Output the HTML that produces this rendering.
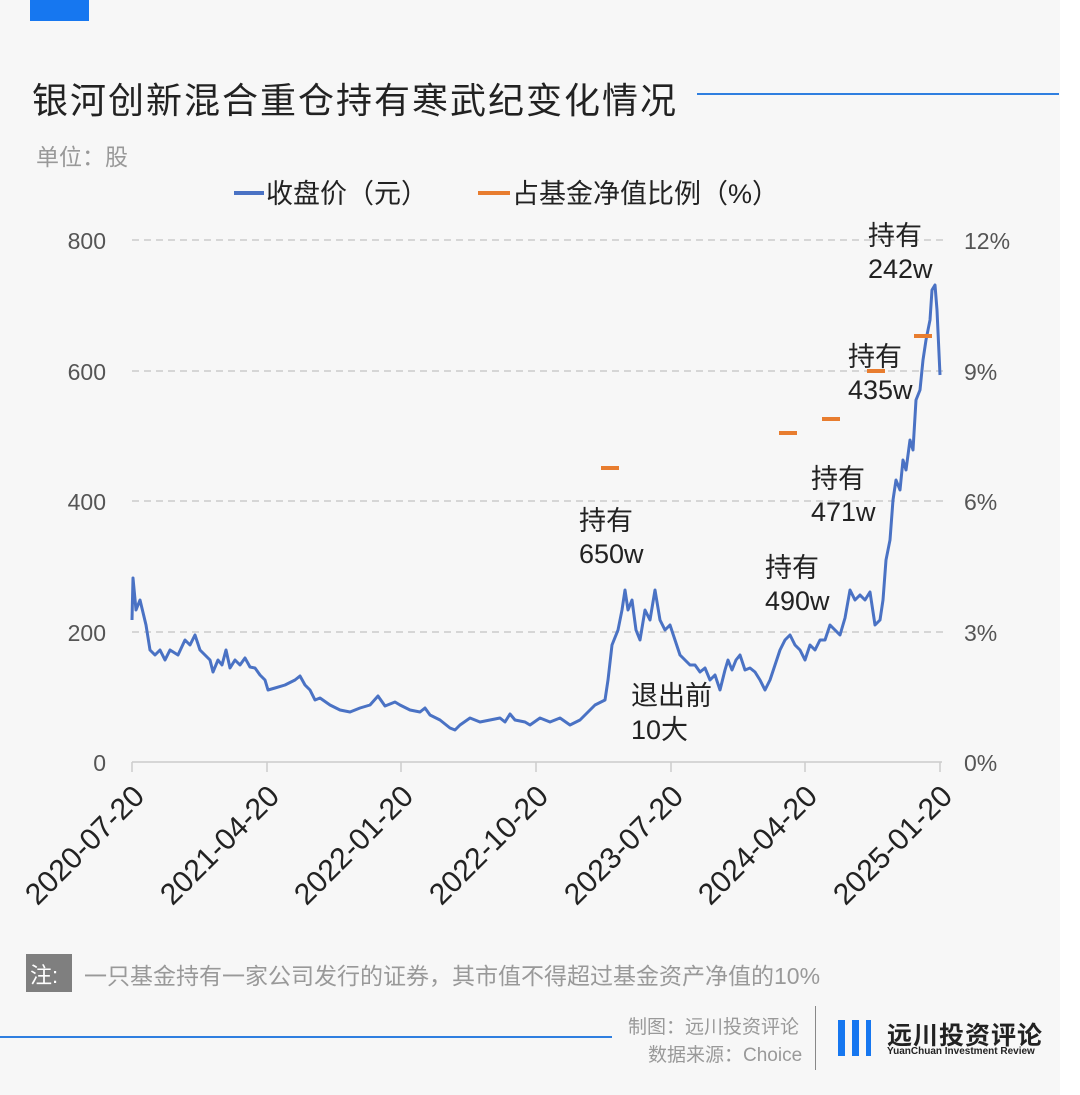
<!DOCTYPE html><html><head><meta charset="utf-8"><style>
body{margin:0;width:1080px;height:1095px;background:#f7f7f7;font-family:"Liberation Sans","Noto Sans CJK SC",sans-serif;position:relative;overflow:hidden}
.a{position:absolute;white-space:nowrap}
</style></head><body>
<div class="a" style="left:1060px;top:0;width:20px;height:1095px;background:#fff"></div>
<div class="a" style="left:30px;top:0;width:59px;height:21px;background:#1677f0"></div>
<div class="a" style="left:32px;top:72px;font-size:36px;letter-spacing:2px;color:#222">银河创新混合重仓持有寒武纪变化情况</div>
<div class="a" style="left:697px;top:93px;width:362px;height:2px;background:#2f7fe0"></div>
<div class="a" style="left:36px;top:138px;font-size:23px;color:#999">单位：股</div>
<svg class="a" style="left:0;top:0" width="1080" height="1095">
<line x1="234" y1="193" x2="264" y2="193" stroke="#4a72c4" stroke-width="4"/>
<text x="266" y="203" font-size="27" fill="#222" font-family="Liberation Sans,Noto Sans CJK SC,sans-serif">收盘价（元）</text>
<line x1="478" y1="193" x2="510" y2="193" stroke="#e87d2f" stroke-width="4"/>
<text x="512" y="203" font-size="27" fill="#222" font-family="Liberation Sans,Noto Sans CJK SC,sans-serif">占基金净值比例（%）</text>
<g stroke="#ccc" stroke-width="1.5" stroke-dasharray="7,5">
<line x1="132" y1="240" x2="948" y2="240"/><line x1="132" y1="371" x2="948" y2="371"/><line x1="132" y1="501" x2="948" y2="501"/><line x1="132" y1="632" x2="948" y2="632"/>
</g>
<line x1="132" y1="762" x2="942" y2="762" stroke="#ccc" stroke-width="1.5"/>
<g stroke="#ccc" stroke-width="1.5"><line x1="132" y1="762" x2="132" y2="772"/><line x1="267" y1="762" x2="267" y2="772"/><line x1="401" y1="762" x2="401" y2="772"/><line x1="536" y1="762" x2="536" y2="772"/><line x1="671" y1="762" x2="671" y2="772"/><line x1="805" y1="762" x2="805" y2="772"/><line x1="940" y1="762" x2="940" y2="772"/></g>
<g font-size="23" fill="#555" font-family="Liberation Sans,sans-serif" text-anchor="end">
<text x="106" y="249">800</text><text x="106" y="380">600</text><text x="106" y="510">400</text><text x="106" y="641">200</text><text x="106" y="771">0</text></g>
<g font-size="23" fill="#555" font-family="Liberation Sans,sans-serif">
<text x="964" y="249">12%</text><text x="964" y="380">9%</text><text x="964" y="510">6%</text><text x="964" y="641">3%</text><text x="964" y="771">0%</text></g>
<g font-size="30" fill="#222" font-family="Liberation Sans,sans-serif" text-anchor="end">
<text transform="translate(146,798) rotate(-45)">2020-07-20</text>
<text transform="translate(281,798) rotate(-45)">2021-04-20</text>
<text transform="translate(415,798) rotate(-45)">2022-01-20</text>
<text transform="translate(550,798) rotate(-45)">2022-10-20</text>
<text transform="translate(685,798) rotate(-45)">2023-07-20</text>
<text transform="translate(819,798) rotate(-45)">2024-04-20</text>
<text transform="translate(954,798) rotate(-45)">2025-01-20</text></g>
<polyline fill="none" stroke="#4a72c4" stroke-width="3" stroke-linejoin="round" points="132,620 133,578 136,610 140,600 146,625 150,650 155,655 160,650 165,660 170,650 178,655 185,640 190,645 195,635 200,650 205,655 210,660 213,672 218,660 222,665 226,650 230,668 235,660 240,665 245,658 250,667 255,668 260,675 265,680 268,690 275,688 285,685 295,680 300,676 305,685 310,690 315,700 320,698 330,705 340,710 350,712 360,708 370,705 378,696 385,706 395,702 400,705 410,710 420,712 425,708 430,715 440,720 450,728 455,730 460,725 470,718 480,722 490,720 500,718 505,722 510,714 515,720 525,722 530,725 540,718 550,722 560,718 570,725 580,720 590,710 595,705 605,700 608,680 612,645 618,630 622,610 625,590 628,610 632,600 636,630 640,640 645,610 650,620 655,590 660,620 665,630 670,625 675,640 680,655 685,660 690,665 695,665 700,672 705,668 710,680 715,675 720,690 725,670 728,660 732,670 736,660 740,655 745,670 750,668 755,672 760,680 765,690 770,680 775,665 780,650 785,640 790,635 795,645 800,650 805,660 810,645 815,650 820,640 825,640 830,625 835,630 840,635 845,618 850,590 855,600 860,595 865,600 870,592 875,625 880,620 883,600 886,560 890,540 893,500 896,480 900,490 903,460 906,470 910,440 913,450 916,400 920,390 923,360 926,340 930,320 932,290 935,285 937,310 940,375"/>
<g stroke="#e87d2f" stroke-width="4"><line x1="601" y1="468" x2="619" y2="468"/><line x1="779" y1="433" x2="797" y2="433"/><line x1="822" y1="419" x2="840" y2="419"/><line x1="867" y1="371" x2="885" y2="371"/><line x1="914" y1="336" x2="932" y2="336"/></g>
<g font-size="27" fill="#222" font-family="Liberation Sans,Noto Sans CJK SC,sans-serif">
<text x="579" y="530">持有</text><text x="579" y="563">650w</text>
<text x="631" y="705">退出前</text><text x="631" y="739">10大</text>
<text x="765" y="577">持有</text><text x="765" y="610">490w</text>
<text x="811" y="488">持有</text><text x="811" y="521">471w</text>
<text x="848" y="366">持有</text><text x="848" y="399">435w</text>
<text x="868" y="245">持有</text><text x="868" y="278">242w</text></g>
</svg>
<div class="a" style="left:26px;top:954px;width:46px;height:38px;background:#7f7f7f"></div>
<div class="a" style="left:30px;top:958px;font-size:22px;color:#fff">注:</div>
<div class="a" style="left:84px;top:957px;font-size:23px;color:#999">一只基金持有一家公司发行的证券，其市值不得超过基金资产净值的10%</div>
<div class="a" style="left:0;top:1036px;width:612px;height:2px;background:#2f7fe0"></div>
<div class="a" style="left:628px;top:1012px;font-size:19px;color:#999">制图：远川投资评论</div>
<div class="a" style="left:648px;top:1040px;font-size:19px;color:#999">数据来源：Choice</div>
<div class="a" style="left:815px;top:1006px;width:1px;height:64px;background:#888"></div>
<div class="a" style="left:838px;top:1020px;width:7px;height:36px;background:#1677f0"></div>
<div class="a" style="left:852px;top:1020px;width:7px;height:36px;background:#1677f0"></div>
<div class="a" style="left:866px;top:1020px;width:5px;height:36px;background:#1677f0"></div>
<div class="a" style="left:887px;top:1016px;font-size:25px;font-weight:bold;color:#222;letter-spacing:1px">远川投资评论</div>
<div class="a" style="left:887px;top:1046px;font-size:10px;font-weight:bold;color:#222">YuanChuan Investment Review</div>
</body></html>
